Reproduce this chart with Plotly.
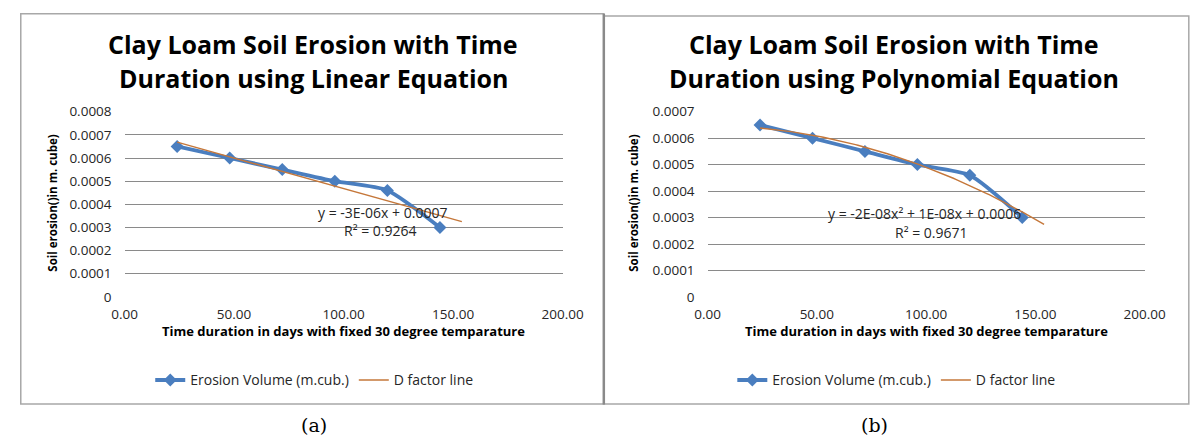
import numpy as np
import plotly.graph_objects as go

# Measured erosion of clay loam soil at a fixed 30 degree temperature
days = [24, 48, 72, 96, 120, 144]
erosion_volume = [0.00065, 0.0006, 0.00055, 0.0005, 0.00046, 0.0003]

# Trend lines are extended this many days past the last measurement
forecast_days = 10

x_ticks = [0, 50, 100, 150, 200]
x_tick_labels = ["0.00", "50.00", "100.00", "150.00", "200.00"]

y_ticks_a = [0, 0.0001, 0.0002, 0.0003, 0.0004, 0.0005, 0.0006, 0.0007, 0.0008]
y_tick_labels_a = ["0", "0.0001", "0.0002", "0.0003", "0.0004", "0.0005", "0.0006", "0.0007", "0.0008"]
y_ticks_b = [0, 0.0001, 0.0002, 0.0003, 0.0004, 0.0005, 0.0006, 0.0007]
y_tick_labels_b = ["0", "0.0001", "0.0002", "0.0003", "0.0004", "0.0005", "0.0006", "0.0007"]

titles_a = ["Clay Loam Soil Erosion with Time", "Duration using Linear Equation"]
titles_b = ["Clay Loam Soil Erosion with Time", "Duration using Polynomial Equation"]
x_title = "Time duration in days with fixed 30 degree temparature"
y_title = "Soil erosion()in m. cube)"
series_name = "Erosion Volume (m.cub.)"
trend_name = "D factor line"
equation_a = ["y = -3E-06x + 0.0007", "R² = 0.9264"]
equation_b = ["y = -2E-08x² + 1E-08x + 0.0006", "R² = 0.9671"]
captions = ["(a)", "(b)"]

# Least-squares trend lines (linear for panel a, 2nd-order polynomial for panel b)
trend_x = np.linspace(days[0], days[-1] + forecast_days, 120)
lin_coef = np.polyfit(days, erosion_volume, 1)
poly_coef = np.polyfit(days, erosion_volume, 2)
trend_lin = np.polyval(lin_coef, trend_x)
trend_poly = np.polyval(poly_coef, trend_x)

W, H = 1203, 447


def px(x):
    return x / W


def py(y):
    return 1 - y / H


FONT = "Open Sans"
BLUE = "#4A7EBF"
ORANGE = "#C5773A"
GRID = "#8A8A8A"
TEXT = "#262626"

fig = go.Figure()

for axis_id, legend_id in (("", "legend"), ("2", "legend2")):
    fig.add_trace(go.Scatter(
        x=days, y=erosion_volume, name=series_name,
        mode="lines+markers",
        line=dict(color=BLUE, width=3.8, shape="spline", smoothing=0.6),
        marker=dict(symbol="diamond", size=10, color=BLUE),
        xaxis="x" + axis_id, yaxis="y" + axis_id, legend=legend_id,
    ))
    fig.add_trace(go.Scatter(
        x=trend_x, y=trend_lin if axis_id == "" else trend_poly, name=trend_name,
        mode="lines", line=dict(color=ORANGE, width=1.4),
        xaxis="x" + axis_id, yaxis="y" + axis_id, legend=legend_id,
    ))

xaxis_common = dict(
    range=[0, 200], tickvals=x_ticks, ticktext=x_tick_labels,
    showgrid=False, zeroline=False, showline=False, ticks="",
    tickfont=dict(family=FONT, size=13.5, color=TEXT),
    ticklabelstandoff=8,
)
yaxis_common = dict(
    showgrid=True, gridcolor=GRID, gridwidth=1.3,
    zeroline=False, showline=False, ticks="",
    tickfont=dict(family=FONT, size=13.5, color=TEXT),
    ticklabelstandoff=12,
    domain=[py(300), py(107)],
)

legend_common = dict(
    orientation="h", y=py(387), xanchor="center", yanchor="middle",
    font=dict(family=FONT, size=14, color=TEXT), bgcolor="rgba(0,0,0,0)",
    itemwidth=30,
)

fig.update_layout(
    width=W, height=H,
    margin=dict(l=0, r=0, t=0, b=0),
    paper_bgcolor="white", plot_bgcolor="white",
    xaxis=dict(xaxis_common, domain=[px(114.8), px(565.6)], anchor="y"),
    xaxis2=dict(xaxis_common, domain=[px(714.8), px(1164.5)], anchor="y2"),
    yaxis=dict(yaxis_common, range=[-1e-9, 0.0008 + 1e-9],
               tickvals=y_ticks_a, ticktext=y_tick_labels_a, anchor="x"),
    yaxis2=dict(yaxis_common, range=[-1e-9, 0.0007 + 1e-9],
                tickvals=y_ticks_b, ticktext=y_tick_labels_b, anchor="x2"),
    legend=dict(legend_common, x=px(310)),
    legend2=dict(legend_common, x=px(909)),
)

# Chart-area frames and the divider between the two charts
fig.add_shape(type="rect", xref="paper", yref="paper",
              x0=px(8), x1=px(608), y0=py(411.7), y1=py(5),
              line=dict(color="#A8A8A8", width=1.5))
fig.add_shape(type="rect", xref="paper", yref="paper",
              x0=px(608), x1=px(1210), y0=py(411.7), y1=py(7.3),
              line=dict(color="#A8A8A8", width=1.5))
fig.add_shape(type="line", xref="paper", yref="paper",
              x0=px(608), x1=px(608), y0=py(412), y1=py(5),
              line=dict(color="#8A8A8A", width=2.5))


def note(text, x, y, size, bold=False, angle=0, family=FONT, color=TEXT):
    fig.add_annotation(
        text=f"<b>{text}</b>" if bold else text,
        x=px(x), y=py(y), xref="paper", yref="paper",
        xanchor="center", yanchor="middle", showarrow=False, textangle=angle,
        font=dict(family=family, size=size, color=color),
    )


for centre, titles, eq, x_mid, eq_pos, caption, cap_x in (
    (309, titles_a, equation_a, 340.2, [(380, 212.3), (378.6, 231)], captions[0], 310),
    (907, titles_b, equation_b, 939.7, [(938, 213.3), (945, 233.3)], captions[1], 887),
):
    note(titles[0], centre, 36.7, 25, bold=True, color="black")
    note(titles[1], centre, 71.7, 25, bold=True, color="black")
    note(x_title, x_mid, 335, 13, bold=True, color="black")
    note(y_title, centre - 268, 202, 11.5, bold=True, angle=-90, color="black")
    note(eq[0], eq_pos[0][0], eq_pos[0][1], 14)
    note(eq[1], eq_pos[1][0], eq_pos[1][1], 14)
    note(caption, cap_x, 433, 19, family="DejaVu Serif", color="black")

fig.write_html("out.html")
